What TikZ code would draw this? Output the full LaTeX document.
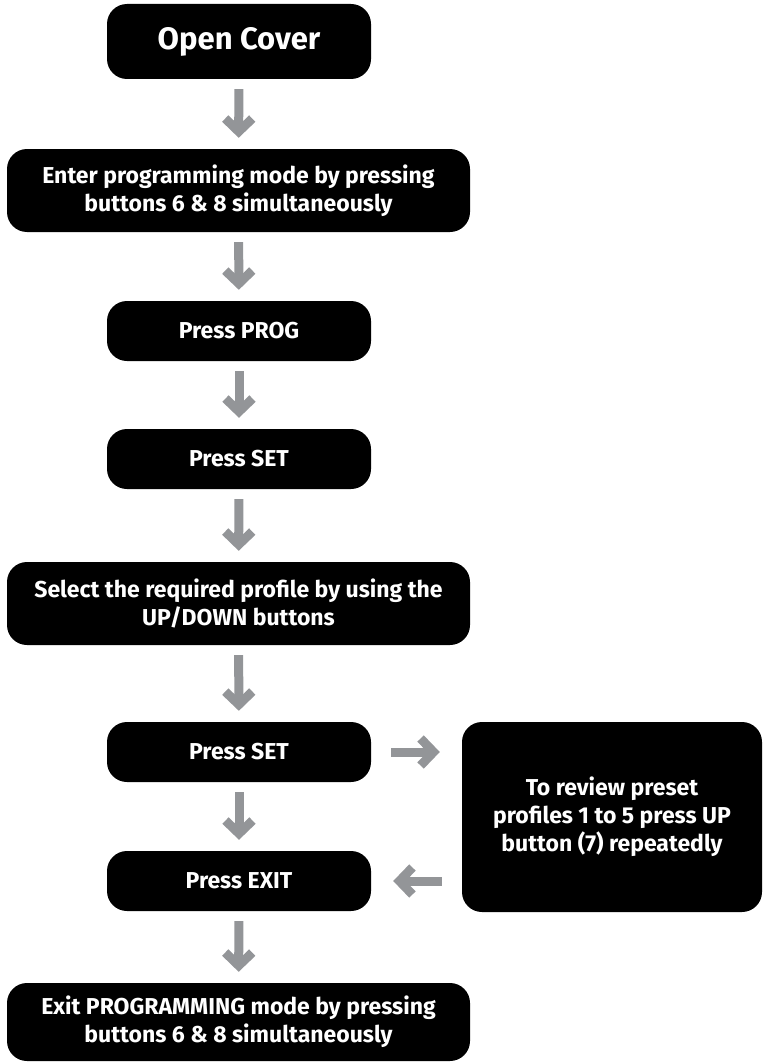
\documentclass[tikz,border=0pt]{standalone}
\usepackage{fontspec}
\setmainfont{Fira Sans}
\usetikzlibrary{arrows.meta,positioning}
\definecolor{arrowgray}{RGB}{147,149,152}

\begin{document}
\begin{tikzpicture}[x=1pt,y=1pt,
    stepbox/.style={rectangle, rounded corners=20pt, fill=black, text=white,
      font=\bfseries\fontsize{23}{28}\selectfont, align=center,
      inner sep=0pt, minimum height=60pt, minimum width=264pt},
    widebox/.style={stepbox, minimum width=463pt, minimum height=83pt},
    flow/.style={draw=arrowgray, line width=9pt,
      -{Straight Barb[length=13pt,width=27pt,line join=miter]}},
    down/.style={flow, shorten <=10pt, shorten >=11pt},
    side/.style={flow, shorten <=20pt, shorten >=22pt}]
      \useasboundingbox (0,0) rectangle (763,-1062);
      \node[stepbox, minimum height=75pt, font=\bfseries\fontsize{31}{37}\selectfont] at (239,-41.5) (open) {Open Cover};
      \node[widebox] at (238.5,-190.5) (enter) {Enter programming mode by pressing\\buttons 6 \& 8 simultaneously};
      \node[stepbox] at (239,-331) (prog) {Press PROG};
      \node[stepbox] at (239,-459) (set1) {Press SET};
      \node[widebox] at (238.5,-603.5) (select) {Select the required profile by using the\\UP/DOWN buttons};
      \node[stepbox] at (239,-752) (set2) {Press SET};
      \node[stepbox] at (239,-881) (exit) {Press EXIT};
      \node[widebox, minimum height=78pt] at (238.5,-1022) (leave) {Exit PROGRAMMING mode by pressing\\buttons 6 \& 8 simultaneously};
      \node[stepbox, minimum width=300pt, minimum height=190pt] at (612,-817) (review) {To review preset\\profiles 1 to 5 press UP\\button (7) repeatedly};
      \draw[down] (open) -- (enter);
      \draw[down] (enter) -- (prog);
      \draw[down] (prog) -- (set1);
      \draw[down] (set1) -- (select);
      \draw[down] (select) -- (set2);
      \draw[down] (set2) -- (exit);
      \draw[down] (exit) -- (leave);
      \draw[side] (set2.east) -- (set2.east -| review.west);
      \draw[side] (review.west |- exit.east) -- (exit.east);
      \end{tikzpicture}
\end{document}
